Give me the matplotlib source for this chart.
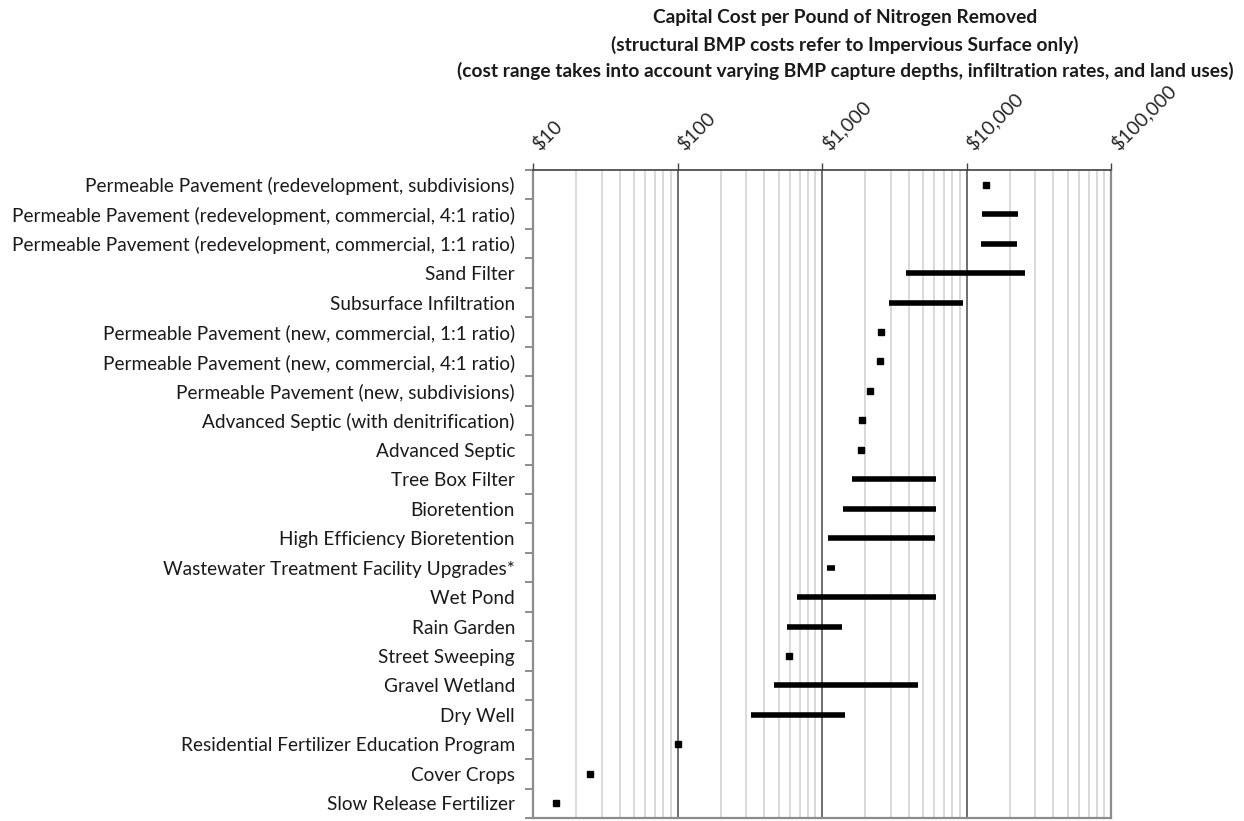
import matplotlib
matplotlib.use("Agg")
import matplotlib.pyplot as plt
from matplotlib.ticker import FixedLocator
import matplotlib.transforms as mtransforms
import numpy as np

categories = [
    "Permeable Pavement (redevelopment, subdivisions)",
    "Permeable Pavement (redevelopment, commercial, 4:1 ratio)",
    "Permeable Pavement (redevelopment, commercial, 1:1 ratio)",
    "Sand Filter",
    "Subsurface Infiltration",
    "Permeable Pavement (new, commercial, 1:1 ratio)",
    "Permeable Pavement (new, commercial, 4:1 ratio)",
    "Permeable Pavement (new, subdivisions)",
    "Advanced Septic (with denitrification)",
    "Advanced Septic",
    "Tree Box Filter",
    "Bioretention",
    "High Efficiency Bioretention",
    "Wastewater Treatment Facility Upgrades*",
    "Wet Pond",
    "Rain Garden",
    "Street Sweeping",
    "Gravel Wetland",
    "Dry Well",
    "Residential Fertilizer Education Program",
    "Cover Crops",
    "Slow Release Fertilizer",
]
cost_low = [13700, 12800, 12650, 3840, 2900, 2550, 2540, 2160, 1890, 1855,
            1610, 1400, 1096, 1077, 668, 573, 587, 462, 323, 100, 24.9, 14.4]
cost_high = [13700, 22900, 22200, 25400, 9440, 2550, 2540, 2160, 1890, 1855,
             6180, 6180, 6040, 1240, 6180, 1383, 587, 4610, 1452, 100, 24.9, 14.4]
tick_values = [10, 100, 1000, 10000, 100000]
tick_labels = ["$10", "$100", "$1,000", "$10,000", "$100,000"]
title_lines = [
    "Capital Cost per Pound of Nitrogen Removed",
    "(structural BMP costs refer to Impervious Surface only)",
    "(cost range takes into account varying BMP capture depths, infiltration rates, and land uses)",
]

plt.rcParams['font.family'] = ['Lato', 'DejaVu Sans']

fig = plt.figure(figsize=(12.44, 8.21), dpi=100)
ax = fig.add_axes([533/1244, 1-818/821, (1111-533)/1244, (818-170)/821])

ax.set_xscale('log')
ax.set_xlim(10, 100000)
n = len(categories)
ax.set_ylim(n - 0.5, -0.5)

# grid
minor_vals = [m * 10**e for e in range(1, 5) for m in range(2, 10)]
for v in minor_vals:
    ax.axvline(v, color='#d9d9d9', lw=1.4, zorder=1)
for v in tick_values[1:4]:
    ax.axvline(v, color='#6e6e6e', lw=1.4, zorder=1.5)

ypos = np.arange(n)
for y, lo, hi in zip(ypos, cost_low, cost_high):
    if hi > lo:
        ax.hlines(y, lo, hi, color='black', lw=4.0, capstyle='butt', zorder=3)
    else:
        ax.plot([lo], [y], marker='s', ms=4.0, color='black', zorder=3, lw=0)

# spines
for s in ['left', 'right', 'bottom']:
    ax.spines[s].set_color('#8c8c8c')
    ax.spines[s].set_linewidth(1.6)
ax.spines['top'].set_color('#404040')
ax.spines['top'].set_linewidth(1.2)

# x ticks on top
ax.xaxis.set_ticks_position('top')
ax.xaxis.set_major_locator(FixedLocator(tick_values))
ax.xaxis.set_minor_locator(FixedLocator([]))
ax.set_xticklabels(tick_labels)
ax.tick_params(axis='x', which='major', direction='out', length=5, width=1.0,
               color='#404040', pad=7, labelsize=14, labelcolor='#262626')
offset = mtransforms.ScaledTranslation(9/100, 0, fig.dpi_scale_trans)
for lab in ax.get_xticklabels():
    lab.set_rotation(45)
    lab.set_ha('left')
    lab.set_va('bottom')
    lab.set_rotation_mode('anchor')
    lab.set_transform(lab.get_transform() + offset)

# y ticks
ax.set_yticks(ypos)
ax.set_yticklabels(categories)
ax.yaxis.set_minor_locator(FixedLocator(np.arange(-0.5, n, 1.0)))
ax.tick_params(axis='y', which='major', length=0, pad=13, labelsize=13.7,
               labelcolor='#1a1a1a')
ax.tick_params(axis='y', which='minor', direction='out', length=6, width=1.4,
               color='#8c8c8c')

for i, t in enumerate(title_lines):
    fig.text(845/1244, 1 - (18 + 26.5*i)/821, t, ha='center', va='center',
             fontsize=13.8, fontweight='bold', color='#1a1a1a')

fig.savefig('out.png', dpi=100)
